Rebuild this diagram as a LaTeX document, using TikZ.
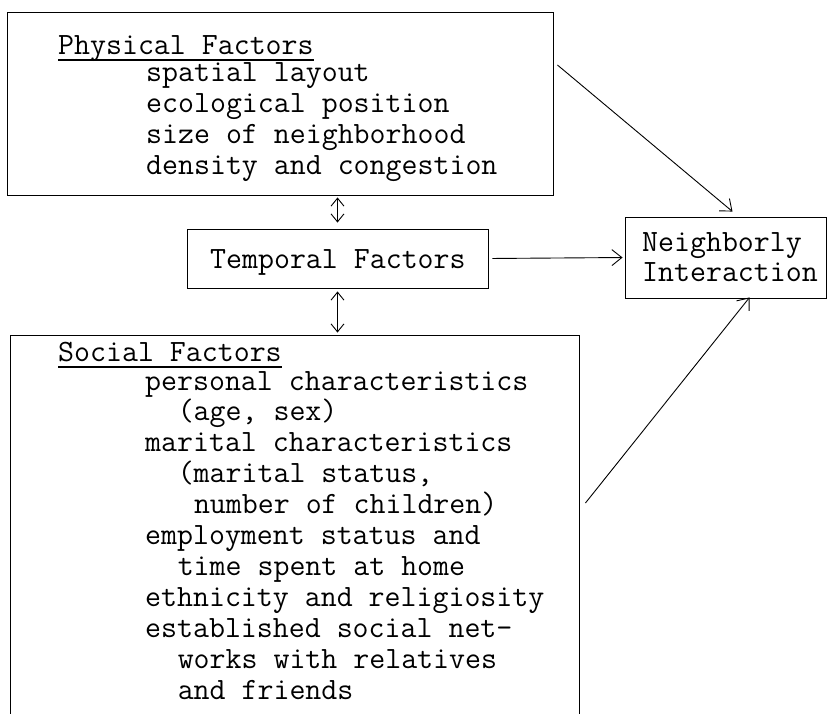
\documentclass[tikz,border=0pt]{standalone}
\usepackage{amsmath}
\usetikzlibrary{arrows.meta}

\newlength\chw
\setlength\chw{16.275pt}
\newcommand{\tw}{\fontsize{31}{31}\selectfont\ttfamily}

\tikzset{
  box/.style={draw, line width=0.9pt, inner sep=0pt},
  head/.style={anchor=base west, inner sep=0pt, text depth=6pt, font=\tw},
  item/.style={anchor=base west, inner sep=0pt, font=\tw},
  arr/.style={line width=0.9pt, -{Straight Barb[length=10pt,width=16pt]}},
  dbl/.style={line width=0.9pt, {Straight Barb[length=8pt,width=13pt]}-{Straight Barb[length=8pt,width=13pt]}},
}

\begin{document}
\begin{tikzpicture}[x=1pt,y=-1pt]
            \useasboundingbox (0,0) rectangle (827,713);
            % boxes
            \node [box, minimum width=546pt, minimum height=183pt] (phys) at (280,103.5) {};
            \node [box, minimum width=301pt, minimum height=59pt] (temp) at (337.5,258.5) {};
            \node [box, minimum width=201pt, minimum height=81pt] (ni) at (725.5,257.5) {};
            \node [box, minimum width=569pt, minimum height=425pt] (soc) at (294.5,547.5) {};
            % texts
            \node [head] (physhead) at (58,54) {Physical Factors};
            \draw [line width=1.6pt] (physhead.south west) -- (physhead.south east);
            \foreach \txt [count=\i] in {spatial layout, ecological position, size of neighborhood, density and congestion}
              \node [item] (physitem\i) at (146,{81.5+31*(\i-1)}) {\txt};
            \node [item] (templabel) at (210,268) {Temporal Factors};
            \node [item] (niline1) at (642,251) {Neighborly};
            \node [item] (niline2) at (642,281) {Interaction};
            \node [head] (sochead) at (58,361) {Social Factors};
            \draw [line width=1.6pt] (sochead.south west) -- (sochead.south east);
            \foreach \txt [count=\i] in {personal characteristics, {\hspace*{2\chw}(age, sex)}, marital characteristics, {\hspace*{2\chw}(marital status,}, {\hspace*{3\chw}number of children)}, employment status and, {\hspace*{2\chw}time spent at home}, ethnicity and religiosity, established social net-, {\hspace*{2\chw}works with relatives}, {\hspace*{2\chw}and friends}}
              \node [item] (socitem\i) at (145,{390+30.9*(\i-1)}) {\txt};
            % arrows
            \draw [arr] ([xshift=4pt,yshift=38.5pt]phys.east) -- ([xshift=7pt,yshift=5pt]ni.north);
            \draw [arr, shorten <=4pt, shorten >=2pt] (temp.east) -- (ni.west);
            \draw [arr] ([xshift=6pt,yshift=44.5pt]soc.east) -- ([xshift=24pt,yshift=1pt]ni.south);
            \draw [dbl, shorten <=2pt, shorten >=6pt] (temp.north |- phys.south) -- (temp.north);
            \draw [dbl, shorten <=3pt, shorten >=2pt] (temp.south) -- (temp.south |- soc.north);
\end{tikzpicture}
\end{document}
